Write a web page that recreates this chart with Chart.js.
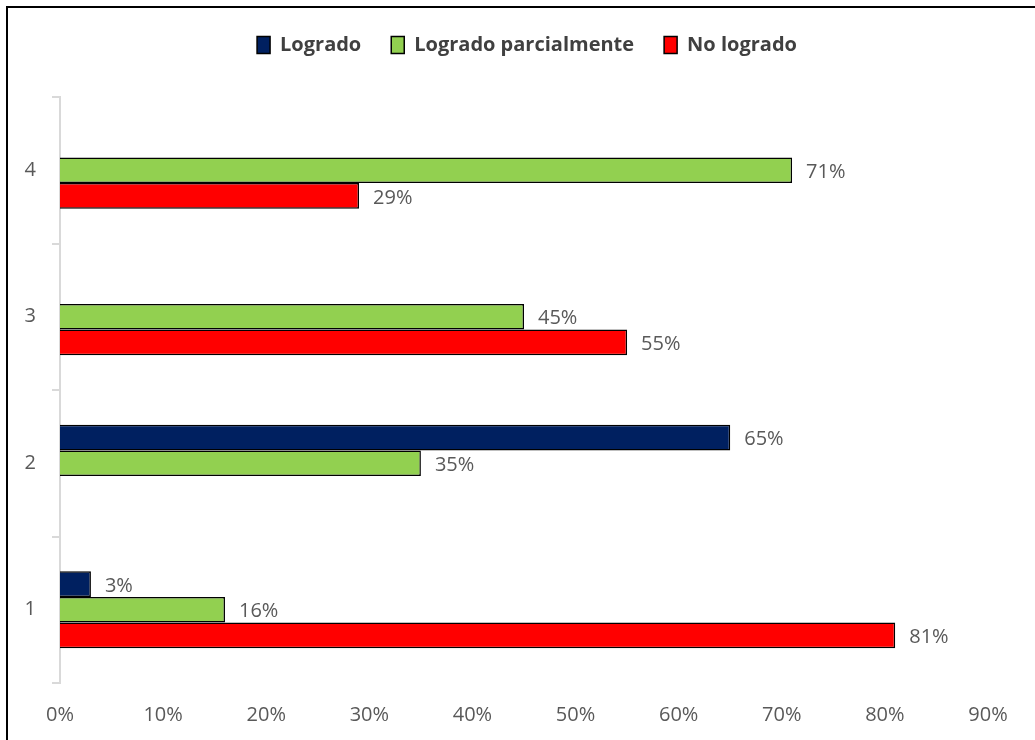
<!DOCTYPE html>
<html>
<head>
<meta charset="utf-8">
<script src="https://cdn.jsdelivr.net/npm/chart.js@4.4.1/dist/chart.umd.min.js"></script>
<style>
  html, body { margin: 0; padding: 0; background: #fff; }
  #wrap { position: relative; width: 1035px; height: 740px; overflow: hidden; }
  #frame { position: absolute; left: 6px; top: 6px; width: 1100px; height: 800px; border: 2px solid #000; box-sizing: border-box; pointer-events: none; }
</style>
</head>
<body>
<div id="wrap">
  <canvas id="chart" width="1035" height="740"></canvas>
  <div id="frame"></div>
</div>
<script>
// categories, top to bottom
const categories = ['4', '3', '2', '1'];

// values in percent, null = no bar
const logrado = [null, null, 65, 3];
const parcial = [71, 45, 35, 16];
const noLogrado = [29, 55, null, 81];

const xTicks = [0, 10, 20, 30, 40, 50, 60, 70, 80, 90];

const FONT = '"Open Sans", sans-serif';

// value labels at the end of each bar
const barLabels = {
  id: 'barLabels',
  afterDatasetsDraw(chart) {
    const ctx = chart.ctx;
    ctx.save();
    ctx.font = '20px ' + FONT;
    ctx.fillStyle = '#595959';
    ctx.textAlign = 'left';
    ctx.textBaseline = 'middle';
    chart.data.datasets.forEach((ds, i) => {
      chart.getDatasetMeta(i).data.forEach((bar, j) => {
        const v = ds.data[j];
        if (v === null) return;
        ctx.fillText(v + '%', bar.x + 14, bar.y + 2);
      });
    });
    ctx.restore();
  }
};

// fixed legend height, and shift it to sit centred over the frame
const legendTweak = {
  id: 'legendTweak',
  afterInit(chart) {
    const lg = chart.legend;
    const fit = lg.fit;
    lg.fit = function () {
      fit.call(lg);
      lg.height = 92;
    };
  },
  afterLayout(chart) {
    chart.legend.left += 33;
    chart.legend.right += 33;
  }
};

new Chart(document.getElementById('chart'), {
  type: 'bar',
  data: {
    labels: categories,
    datasets: [
      { label: 'Logrado', data: logrado, backgroundColor: '#002060', borderColor: '#000', borderWidth: 1.5 },
      { label: 'Logrado parcialmente', data: parcial, backgroundColor: '#92D050', borderColor: '#000', borderWidth: 1.5 },
      { label: 'No logrado', data: noLogrado, backgroundColor: '#FF0000', borderColor: '#000', borderWidth: 1.5 }
    ]
  },
  options: {
    indexAxis: 'y',
    responsive: false,
    animation: false,
    categoryPercentage: 0.525,
    barPercentage: 1,
    layout: { padding: { left: 0, right: 47, top: 5, bottom: 0 } },
    plugins: {
      legend: {
        position: 'top',
        labels: {
          font: { family: FONT, size: 20, weight: 'bold' },
          color: '#404040',
          boxWidth: 13,
          boxHeight: 17,
          padding: 30
        }
      },
      tooltip: { enabled: false }
    },
    scales: {
      x: {
        min: 0,
        max: 90,
        afterBuildTicks: (axis) => { axis.ticks = xTicks.map(v => ({ value: v })); },
        afterFit: (axis) => { axis.height = 57; axis.paddingLeft = 0; axis.paddingRight = 0; },
        ticks: {
          callback: (v) => v + '%',
          font: { family: FONT, size: 20 },
          color: '#595959',
          padding: 20
        },
        grid: { display: false, drawTicks: false },
        border: { display: false }
      },
      y: {
        afterFit: (axis) => { axis.width = 60; axis.paddingTop = 0; axis.paddingBottom = 0; },
        ticks: {
          font: { family: FONT, size: 20 },
          color: '#595959',
          padding: 16
        },
        grid: { drawOnChartArea: false, drawTicks: true, tickLength: 8, color: '#d9d9d9', lineWidth: 2 },
        border: { color: '#d9d9d9', width: 2 }
      }
    }
  },
  plugins: [barLabels, legendTweak]
});
</script>
</body>
</html>
